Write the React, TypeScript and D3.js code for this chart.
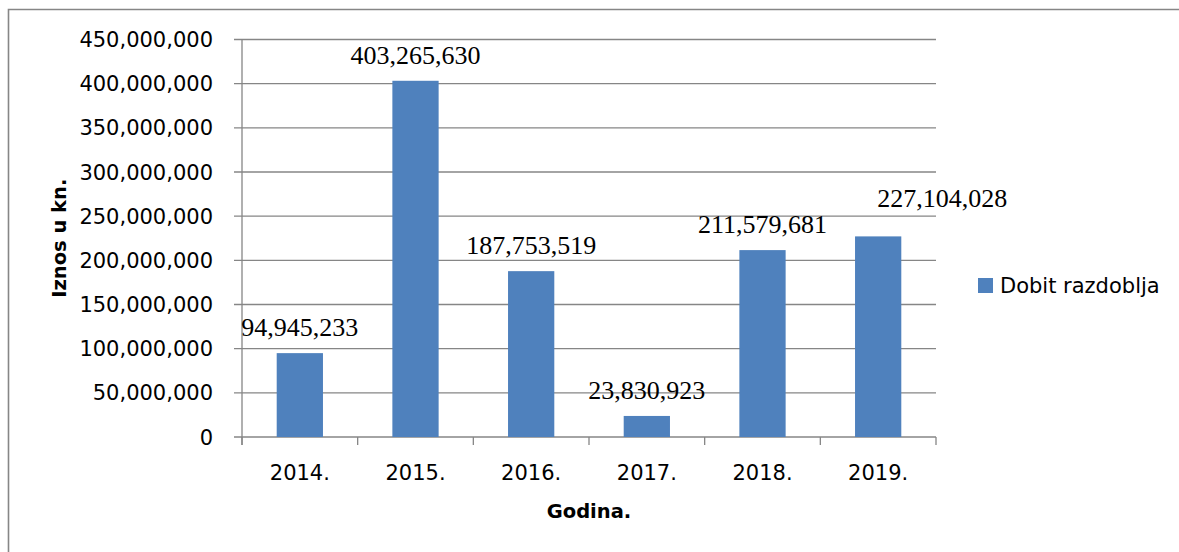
import React from 'react';
import * as d3 from 'd3';

const years = ['2014.', '2015.', '2016.', '2017.', '2018.', '2019.'];
const profit = [94945233, 403265630, 187753519, 23830923, 211579681, 227104028];
const yTicks = [0, 50000000, 100000000, 150000000, 200000000, 250000000, 300000000, 350000000, 400000000, 450000000];
const seriesName = 'Dobit razdoblja';

const W = 1179;
const H = 552;
const plot = { left: 242, right: 936, top: 39.5, bottom: 437 };

const BAR = '#4F81BD';
const GRID = '#868686';
const SANS = '"DejaVu Sans", Verdana, sans-serif';
const SERIF = '"Liberation Serif", "Times New Roman", serif';

// label nudges (the 2019 label was dragged aside in the original)
const labelShift = [[0, 0], [0, 0], [0, 0], [0, 0], [0, 0], [64, -12]];

const fmt = d3.format(',');

const App: React.FC = () => {
  const x = d3.scaleBand<string>()
    .domain(years)
    .range([plot.left, plot.right])
    .padding(0);

  const y = d3.scaleLinear()
    .domain([0, 450000000])
    .range([plot.bottom, plot.top]);

  const bw = x.bandwidth() * 0.4;
  const step = x.step();

  return (
    <div style={{ position: 'fixed', left: 0, top: 0, width: W, height: H, background: '#fff' }}>
      <svg width={W} height={H} style={{ display: 'block' }}>
        <rect x={0} y={0} width={W} height={H} fill="#fff" />
        {/* outer frame */}
        <path d={`M8.5,${H + 5} V9.5 H${W + 5}`} fill="none" stroke={GRID} strokeWidth={1.6} />

        {/* gridlines + y ticks */}
        {yTicks.map(t => (
          <g key={t}>
            <line x1={plot.left - 8} x2={plot.right} y1={y(t)} y2={y(t)} stroke={GRID} strokeWidth={1.3} />
            <text
              x={213}
              y={y(t)}
              dy="0.36em"
              textAnchor="end"
              fontFamily={SANS}
              fontSize={21}
              fill="#000"
            >
              {fmt(t)}
            </text>
          </g>
        ))}

        {/* y axis line */}
        <line x1={plot.left} x2={plot.left} y1={plot.top} y2={plot.bottom + 8} stroke={GRID} strokeWidth={1.3} />

        {/* x ticks */}
        {d3.range(years.length + 1).map(i => (
          <line
            key={i}
            x1={plot.left + i * step}
            x2={plot.left + i * step}
            y1={plot.bottom}
            y2={plot.bottom + 8}
            stroke={GRID}
            strokeWidth={1.3}
          />
        ))}

        {/* bars */}
        {years.map((yr, i) => {
          const cx = (x(yr) || 0) + x.bandwidth() / 2;
          return (
            <rect
              key={yr}
              x={cx - bw / 2}
              y={y(profit[i])}
              width={bw}
              height={plot.bottom - y(profit[i])}
              fill={BAR}
            />
          );
        })}

        {/* value labels */}
        {years.map((yr, i) => {
          const cx = (x(yr) || 0) + x.bandwidth() / 2;
          return (
            <text
              key={'l' + yr}
              x={cx + labelShift[i][0]}
              y={y(profit[i]) - 17 + labelShift[i][1]}
              textAnchor="middle"
              fontFamily={SERIF}
              fontSize={26}
              fill="#000"
            >
              {fmt(profit[i])}
            </text>
          );
        })}

        {/* x labels */}
        {years.map(yr => (
          <text
            key={'x' + yr}
            x={(x(yr) || 0) + x.bandwidth() / 2}
            y={480}
            textAnchor="middle"
            fontFamily={SANS}
            fontSize={21}
            fill="#000"
          >
            {yr}
          </text>
        ))}

        {/* axis titles */}
        <text
          x={(plot.left + plot.right) / 2}
          y={518}
          textAnchor="middle"
          fontFamily={SANS}
          fontWeight="bold"
          fontSize={19.5}
          fill="#000"
        >
          Godina.
        </text>
        <text
          transform={`translate(66,${(plot.top + plot.bottom) / 2}) rotate(-90)`}
          textAnchor="middle"
          fontFamily={SANS}
          fontWeight="bold"
          fontSize={19.5}
          fill="#000"
        >
          Iznos u kn.
        </text>

        {/* legend */}
        <rect x={978} y={278} width={15} height={15} fill={BAR} />
        <text x={1000} y={293} fontFamily={SANS} fontSize={21} fill="#000">
          {seriesName}
        </text>
      </svg>
    </div>
  );
};

export default App;
